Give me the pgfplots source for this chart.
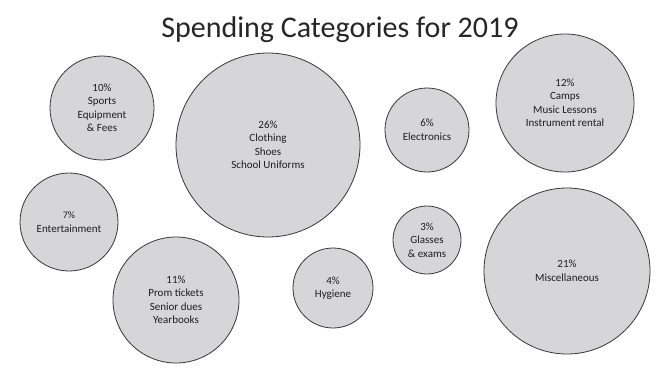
\documentclass[border=0pt]{standalone}
\usepackage{pgfplots}
\pgfplotsset{compat=1.18}
\usepackage{pgfplotstable}
\usepackage{fontspec}
\setmainfont{Carlito}
\definecolor{bubblefill}{RGB}{214,214,216}
\definecolor{bubbleedge}{RGB}{55,55,55}
\definecolor{txt}{RGB}{30,30,30}
\pgfplotstableread[col sep=comma]{
x,y,r,label
102,108,52,{10\%\\Sports\\Equipment\\\& Fees}
268,145,92,{26\%\\Clothing\\Shoes\\School Uniforms}
427,130,42,{6\%\\Electronics}
565,103,69,{12\%\\Camps\\Music Lessons\\Instrument rental}
69,222,49,{\fontsize{10}{13}\selectfont 7\%\\Entertainment}
176,300,63,{11\%\\Prom tickets\\Senior dues\\Yearbooks}
333,288,40,{4\%\\Hygiene}
427,240,34,{3\%\\Glasses\\\& exams}
567,271,83,{21\%\\Miscellaneous}
}\bubbles
\begin{document}
\begin{tikzpicture}
\begin{axis}[
  scale only axis, width=664pt, height=381pt,
  xmin=0, xmax=664, ymin=0, ymax=381, y dir=reverse,
  hide axis, clip=false,
]
\path (rel axis cs:0,0) rectangle (rel axis cs:1,1);
\addplot[draw=none, mark=none,
  point meta=explicit symbolic,
  visualization depends on={\thisrow{r} \as \rad},
  nodes near coords,
  nodes near coords align={center},
  every node near coord/.append style={anchor=center, align=center, text=txt,
    circle, draw=bubbleedge, fill=bubblefill, line width=0.8pt,
    minimum size=\rad*2pt, inner sep=0pt, outer sep=0pt,
    font=\fontsize{11}{13.5}\selectfont},
] table[x=x, y=y, meta=label] {\bubbles};
\node[font=\fontsize{30}{34}\selectfont, text=black!85, anchor=base] at (axis cs:340,37) {Spending Categories for 2019};
\end{axis}
\end{tikzpicture}
\end{document}
